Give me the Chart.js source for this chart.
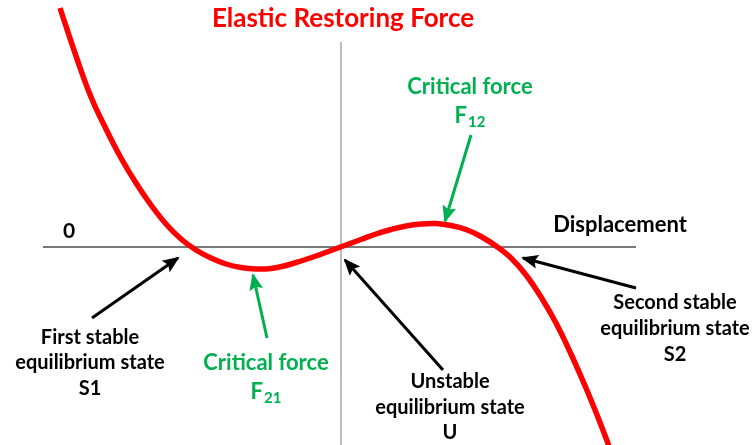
<!DOCTYPE html>
<html>
<head>
<meta charset="utf-8">
<script src="https://cdn.jsdelivr.net/npm/chart.js@4.4.1/dist/chart.umd.min.js"></script>
<style>
  html, body { margin: 0; padding: 0; background: #fff; }
  #wrap { width: 753px; height: 445px; }
</style>
</head>
<body>
<div id="wrap"><canvas id="forceChart" width="753" height="445"></canvas></div>
<script>
// restoring force curve (x: displacement, y: force)
const curveX = [-281, -265, -250, -235, -220, -205, -190, -175, -160, -145, -130, -115, -100, -85, -70, -55, -40, -25, -10, 5, 20, 35, 50, 65, 80, 95, 110, 125, 140, 155, 170, 185, 200, 215, 230, 245, 260, 272];
const curveY = [239, 191, 150, 118, 89, 64, 42, 23, 8, -3, -11, -17, -20.5, -22, -21.5, -18.5, -14, -9, -3.5, 2, 7.5, 13, 17.5, 21, 23, 23.5, 21.5, 17.5, 10.5, 1, -11, -28, -50, -76, -107, -141, -178, -210];

// axis lines
const axisX = [-298, 295];
const axisY = [205, -198];

// arrows: [tailX, tailY, headX, headY]
const arrowF12 = [130, 112, 104, 26];
const arrowF21 = [-74, -91, -88, -28];
const arrowS1 = [-249, -71, -163, -11];
const arrowU = [102, -123, 4, -13];
const arrowS2 = [295, -41, 182, -11];

const RED = '#ff0000';
const GREEN = '#00b050';
const BLACK = '#000000';

// text annotations
const labels = [
    { text: 'Elastic Restoring Force', x: 2, y: 228, color: RED, size: 26 },
    { text: 'Critical force', x: 129, y: 160, color: GREEN, size: 22 },
    { text: 'F', sub: '12', x: 129, y: 131, color: GREEN, size: 22 },
    { text: '0', x: -272, y: 16, color: BLACK, size: 21 },
    { text: 'Displacement', x: 279, y: 22, color: BLACK, size: 22 },
    { text: 'First stable', x: -251, y: -91, color: BLACK, size: 20 },
    { text: 'equilibrium state', x: -251, y: -116, color: BLACK, size: 20 },
    { text: 'S1', x: -251, y: -142, color: BLACK, size: 20 },
    { text: 'Critical force', x: -75, y: -116, color: GREEN, size: 22 },
    { text: 'F', sub: '21', x: -75, y: -145, color: GREEN, size: 22 },
    { text: 'Unstable', x: 109, y: -135, color: BLACK, size: 20 },
    { text: 'equilibrium state', x: 109, y: -161, color: BLACK, size: 20 },
    { text: 'U', x: 109, y: -186, color: BLACK, size: 20 },
    { text: 'Second stable', x: 334, y: -56, color: BLACK, size: 20 },
    { text: 'equilibrium state', x: 334, y: -82, color: BLACK, size: 20 },
    { text: 'S2', x: 334, y: -108, color: BLACK, size: 20 }
];

const FONT = 'Lato, "Open Sans", sans-serif';

function toPoints(xs, ys) {
    return xs.map(function(x, i) { return { x: x, y: ys[i] }; });
}

function arrowDataset(a, color) {
    return {
        data: [{ x: a[0], y: a[1] }, { x: a[2], y: a[3] }],
        borderColor: color,
        borderWidth: 3,
        pointRadius: 0,
        isArrow: true,
        order: 1
    };
}

const arrowHeads = {
    id: 'arrowHeads',
    afterDatasetsDraw(chart) {
        const ctx = chart.ctx;
        chart.data.datasets.forEach(function(ds, i) {
            if (!ds.isArrow) return;
            const pts = chart.getDatasetMeta(i).data;
            const tail = pts[0], head = pts[1];
            const ang = Math.atan2(head.y - tail.y, head.x - tail.x);
            const len = 15, half = 7;
            ctx.save();
            ctx.translate(head.x, head.y);
            ctx.rotate(ang);
            ctx.fillStyle = ds.borderColor;
            ctx.beginPath();
            ctx.moveTo(2, 0);
            ctx.lineTo(-len, -half);
            ctx.lineTo(-len + 3, 0);
            ctx.lineTo(-len, half);
            ctx.closePath();
            ctx.fill();
            ctx.restore();
        });
    }
};

const textLabels = {
    id: 'textLabels',
    afterDraw(chart) {
        const ctx = chart.ctx;
        const xs = chart.scales.x, ys = chart.scales.y;
        ctx.save();
        ctx.textBaseline = 'middle';
        labels.forEach(function(l) {
            const px = xs.getPixelForValue(l.x);
            const py = ys.getPixelForValue(l.y);
            ctx.fillStyle = l.color;
            ctx.font = 'bold ' + l.size + 'px ' + FONT;
            if (l.sub) {
                const subFont = 'bold ' + Math.round(l.size * 0.7) + 'px ' + FONT;
                const w1 = ctx.measureText(l.text).width;
                ctx.font = subFont;
                const w2 = ctx.measureText(l.sub).width;
                const left = px - (w1 + w2 + 1) / 2;
                ctx.textAlign = 'left';
                ctx.font = 'bold ' + l.size + 'px ' + FONT;
                ctx.fillText(l.text, left, py);
                ctx.font = subFont;
                ctx.fillText(l.sub, left + w1 + 1, py + l.size * 0.3);
            } else {
                ctx.textAlign = 'center';
                ctx.fillText(l.text, px, py);
            }
        });
        ctx.restore();
    }
};

const ctx = document.getElementById('forceChart').getContext('2d');

new Chart(ctx, {
    type: 'line',
    data: {
        datasets: [
            {
                data: toPoints(axisX, [0, 0]),
                borderColor: '#4d4d4d',
                borderWidth: 1.5,
                pointRadius: 0,
                order: 3
            },
            {
                data: toPoints([0, 0], axisY),
                borderColor: '#a6a6a6',
                borderWidth: 1.5,
                pointRadius: 0,
                order: 3
            },
            {
                data: toPoints(curveX, curveY),
                borderColor: RED,
                borderWidth: 5.5,
                pointRadius: 0,
                tension: 0.4,
                order: 2
            },
            arrowDataset(arrowF12, GREEN),
            arrowDataset(arrowF21, GREEN),
            arrowDataset(arrowS1, BLACK),
            arrowDataset(arrowU, BLACK),
            arrowDataset(arrowS2, BLACK)
        ]
    },
    options: {
        responsive: false,
        animation: false,
        layout: { padding: 0 },
        plugins: {
            legend: { display: false },
            tooltip: { enabled: false }
        },
        scales: {
            x: { type: 'linear', min: -341, max: 412, display: false },
            y: { type: 'linear', min: -198, max: 247, display: false }
        }
    },
    plugins: [arrowHeads, textLabels]
});
</script>
</body>
</html>
